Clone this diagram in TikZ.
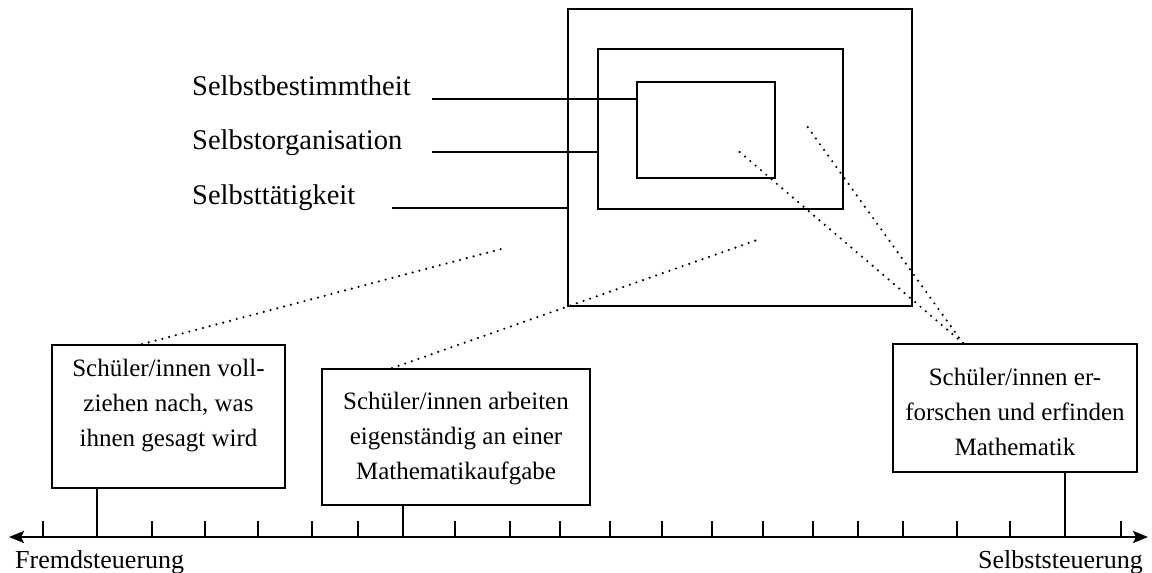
\documentclass[tikz,border=0pt]{standalone}
\usepackage{fontspec}
\setmainfont{Liberation Serif}
\usetikzlibrary{arrows.meta}
\tikzset{
  frame/.style={draw, line width=1.7pt, inner sep=0pt},
  box/.style={draw, line width=1.7pt, inner sep=0pt, font=\fontsize{25}{35}\selectfont},
  lab/.style={anchor=base west, inner sep=0pt, font=\fontsize{28.5}{34}\selectfont},
  axlab/.style={inner sep=0pt, font=\fontsize{26}{30}\selectfont},
  leader/.style={line width=2.5pt},
  dots/.style={line width=2.4pt, line cap=round, dash pattern=on 0pt off 7pt},
  tickline/.style={line width=1.7pt},
  axisline/.style={line width=2.4pt, {Stealth[length=15pt,width=12pt,inset=3pt]}-{Stealth[length=15pt,width=12pt,inset=3pt]}},
}
\newcommand{\boxtext}[2]{\raisebox{#1}[\height][\depth]{\begin{tabular}{@{}c@{}}#2\end{tabular}}}
\begin{document}
\begin{tikzpicture}[x=1pt,y=-1pt]
\useasboundingbox (0,0) rectangle (1152,573);

% nested squares
\node[frame, minimum width=344pt, minimum height=297pt] (outer) at (740,157.5) {};
\node[frame, minimum width=245pt, minimum height=160pt] (mid) at (720.5,129) {};
\node[frame, minimum width=138pt, minimum height=96pt] (inner) at (706,130) {};

% labels
\node[lab] (sb) at (192,95) {Selbstbestimmtheit};
\node[lab] (so) at (192,149) {Selbstorganisation};
\node[lab] (st) at (192,204) {Selbsttätigkeit};
\coordinate (l1) at (432,99);
\coordinate (l2) at (432,152);
\coordinate (l3) at (392,208);
\draw[leader] (l1) -- (l1 -| inner.west);
\draw[leader] (l2) -- (l2 -| mid.west);
\draw[leader] (l3) -- (l3 -| outer.west);

% boxes
\node[box, minimum width=233pt, minimum height=143pt] (b1) at (168.5,416.5)
  {\boxtext{12.5pt}{Schüler/innen voll-\\ziehen nach, was\\ihnen gesagt wird}};
\node[box, minimum width=268pt, minimum height=136pt] (b2) at (456,437)
  {\boxtext{0pt}{Schüler/innen arbeiten\\eigenständig an einer\\Mathematikaufgabe}};
\node[box, minimum width=244pt, minimum height=128pt] (b3) at (1015,408)
  {\boxtext{-5pt}{Schüler/innen er-\\forschen und erfinden\\Mathematik}};

% dotted connectors
\coordinate (x1) at (142,0);
\coordinate (q1) at (505,248);
\coordinate (x2) at (392,0);
\coordinate (q2) at (760,239);
\coordinate (x3) at (963,0);
\coordinate (q3) at (735,148);
\coordinate (q4) at (804,122);
\draw[dots] (b1.north -| x1) -- (q1);
\draw[dots] (b2.north -| x2) -- (q2);
\draw[dots] (b3.north -| x3) -- (q3);
\draw[dots] (b3.north -| x3) -- (q4);

% axis
\coordinate (axL) at (9,537);
\coordinate (axR) at (1148,537);
\draw[axisline] (axL) -- (axR);
\foreach \t in {43,152,205,258,312,358,455,510,560,610,662,712,763,813,858,903,957,1010,1121}
  \draw[tickline] (\t,521) -- (\t,537);
\coordinate (a1) at (97,537);
\coordinate (a2) at (403,537);
\coordinate (a3) at (1065,537);
\draw[tickline] (b1.south -| a1) -- (a1);
\draw[tickline] (b2.south -| a2) -- (a2);
\draw[tickline] (b3.south -| a3) -- (a3);

\node[axlab, anchor=base west] (fs) at (15,568) {Fremdsteuerung};
\node[axlab, anchor=base east] (ss) at (1143,568) {Selbststeuerung};
\end{tikzpicture}
\end{document}
